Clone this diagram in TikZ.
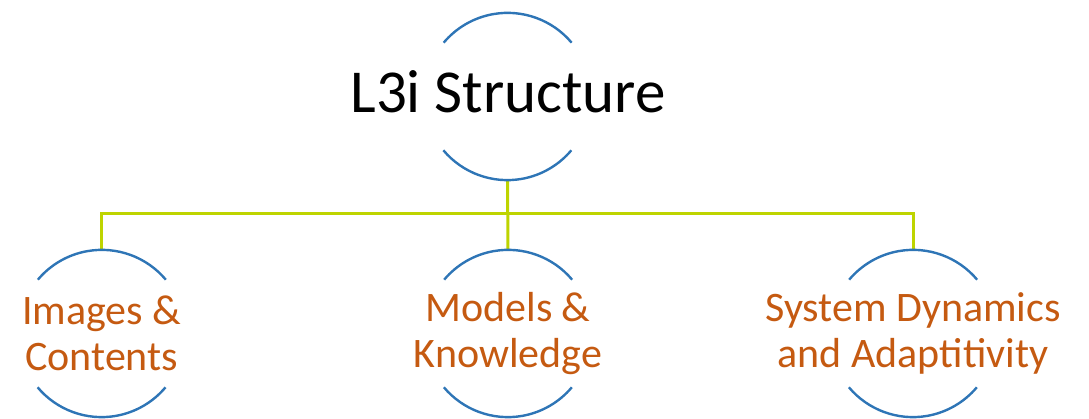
\documentclass[tikz,border=0pt]{standalone}
\usepackage{fontspec}
\setmainfont{Carlito}
\definecolor{arcblue}{HTML}{2E75B6}
\definecolor{linegreen}{HTML}{BED400}
\definecolor{txtorange}{HTML}{C55A11}
\begin{document}
\begin{tikzpicture}[x=1pt,y=1pt,
  ring/.style={circle,minimum size=167pt,inner sep=0pt,draw=none},
  arcline/.style={draw=arcblue,line width=2.4pt},
  conn/.style={draw=linegreen,line width=3pt},
  toptext/.style={font=\fontsize{61}{70}\selectfont,text=black,inner sep=0pt},
  subtext/.style={font=\fontsize{42}{46}\selectfont,text=txtorange,align=center,inner sep=0pt}]
\useasboundingbox (0,0) rectangle (1089,419);
\node[ring] (top) at (507.5,322.5) {};
\node[ring] (c1) at (101.7,85.5) {};
\node[ring] (c2) at (508,85.5) {};
\node[ring] (c3) at (913,85.5) {};
\coordinate (bus) at (507.5,205);
% connectors
\draw[conn] (top.south) -- (c2.north);
\draw[conn] (c1.north) |- (bus) -| (c3.north);
% arcs
\foreach \n in {top,c1,c2,c3}{
  \draw[arcline] (\n.40) arc[start angle=40,end angle=140,radius=83.5pt];
  \draw[arcline] (\n.220) arc[start angle=220,end angle=320,radius=83.5pt];
}
% texts
\node[toptext,anchor=base] (t0) at (508,306.3) {L3i Structure};
\node[subtext] (t1) at (c1.center) {Images \&\\Contents};
\node[subtext] (t2) at (c2.center) {Models \&\\Knowledge};
\node[subtext] (t3) at (c3.center) {System Dynamics\\and Adaptitivity};
\end{tikzpicture}
\end{document}
